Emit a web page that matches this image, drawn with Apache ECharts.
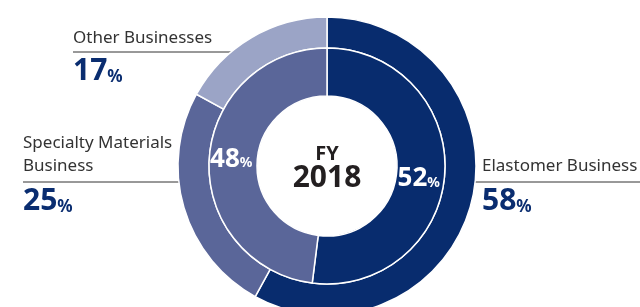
<!DOCTYPE html>
<html>
<head>
<meta charset="utf-8">
<script src="https://cdn.jsdelivr.net/npm/echarts@6/dist/echarts.min.js"></script>
<style>
  html, body { margin: 0; padding: 0; background: #fff; }
  #main { width: 640px; height: 307px; }
</style>
</head>
<body>
<div id="main"></div>
<script>
// chart data
var outerNames = ['Elastomer Business', 'Specialty Materials\nBusiness', 'Other Businesses'];
var outerValues = [58, 25, 17];
var innerNames = ['Elastomer', 'Non-Elastomer'];
var innerValues = [52, 48];
var centerLines = ['FY', '2018'];

var colors = ['#082c6e', '#5a6699', '#9ba4c6'];
var font = 'Noto Sans';
var navy = '#0a2d70';

var chart = echarts.init(document.getElementById('main'));

// side labels: name above a rule, big percentage below
function sideLabel(name, value, x, nameY, lineX1, lineX2, lineY) {
  return [
    {
      type: 'text', x: x, y: nameY,
      style: { text: name, font: '17px "' + font + '"', fill: '#333', textVerticalAlign: 'bottom', lineHeight: 23 }
    },
    {
      type: 'line',
      shape: { x1: lineX1, y1: lineY, x2: lineX2, y2: lineY },
      style: { stroke: '#333', lineWidth: 1 }
    },
    {
      type: 'text', x: x, y: lineY + 4,
      style: {
        text: '{v|' + value + '}{p|%}',
        rich: {
          v: { fontFamily: font, fontWeight: 'bold', fontSize: 30, fill: navy, verticalAlign: 'bottom', lineHeight: 30 },
          p: { fontFamily: font, fontWeight: 'bold', fontSize: 17, fill: navy, verticalAlign: 'bottom', lineHeight: 30 }
        }
      }
    }
  ];
}

var graphics = []
  .concat(sideLabel(outerNames[2], outerValues[2], 73, 50, 73, 247, 52))
  .concat(sideLabel(outerNames[1], outerValues[1], 23, 178, 23, 197, 182))
  .concat(sideLabel(outerNames[0], outerValues[0], 482, 178, 457, 640, 182));

graphics.push({
  type: 'text', x: 327, y: 154,
  style: { text: centerLines[0], font: 'bold 20px "' + font + '"', fill: '#231f20', align: 'center', verticalAlign: 'middle' }
});
graphics.push({
  type: 'text', x: 327, y: 178,
  style: { text: centerLines[1], font: 'bold 30px "' + font + '"', fill: '#231f20', align: 'center', verticalAlign: 'middle' }
});

var option = {
  animation: false,
  series: [
    {
      type: 'pie',
      center: [327, 166],
      radius: [118, 149],
      silent: true,
      label: { show: false },
      labelLine: { show: false },
      itemStyle: { borderColor: '#fff', borderWidth: 1.5 },
      data: outerValues.map(function (v, i) {
        return { name: outerNames[i], value: v, itemStyle: { color: colors[i] } };
      })
    },
    {
      type: 'pie',
      center: [327, 166],
      radius: [70, 118],
      silent: true,
      itemStyle: { borderColor: '#fff', borderWidth: 1.5 },
      label: {
        show: true,
        position: 'inside',
        formatter: '{v|{c}}{p|%}',
        rich: {
          v: { fontFamily: font, fontWeight: 'bold', fontSize: 26, color: '#fff' },
          p: { fontFamily: font, fontWeight: 'bold', fontSize: 14, color: '#fff', padding: [7, 0, 0, 0] }
        }
      },
      labelLine: { show: false },
      data: innerValues.map(function (v, i) {
        return {
          name: innerNames[i], value: v,
          itemStyle: { color: colors[i] },
          label: { offset: i === 0 ? [-5, 7] : [1, 0] }
        };
      })
    }
  ],
  graphic: graphics
};

chart.setOption(option);
</script>
</body>
</html>
